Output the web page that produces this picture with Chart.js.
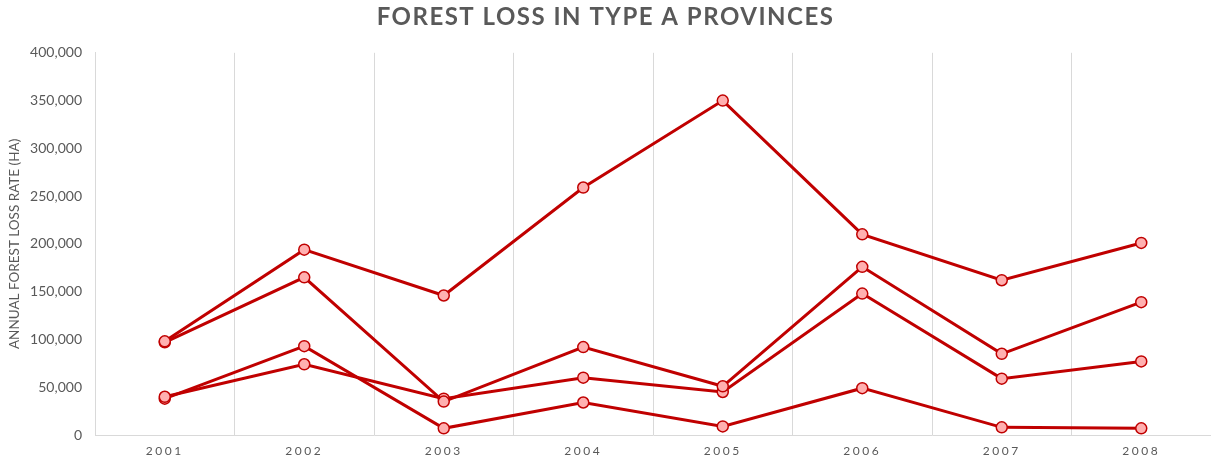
<!DOCTYPE html>
<html>
<head>
<meta charset="utf-8">
<script src="https://cdn.jsdelivr.net/npm/chart.js@4.4.0/dist/chart.umd.min.js"></script>
<style>
  html, body { margin: 0; padding: 0; background: #ffffff; }
  #wrap { width: 1211px; height: 466px; }
</style>
</head>
<body>
<div id="wrap"><canvas id="c" width="1211" height="466"></canvas></div>
<script>
const years = ['2001', '2002', '2003', '2004', '2005', '2006', '2007', '2008'];
const seriesA = [98000, 194000, 146000, 259000, 350000, 210000, 162000, 201000];
const seriesB = [97000, 165000, 35000, 92000, 51000, 176000, 85000, 139000];
const seriesC = [40000, 74000, 38000, 60000, 45000, 148000, 59000, 77000];
const seriesD = [38000, 93000, 7000, 34000, 9000, 49000, 8000, 7000];
const chartTitle = 'FOREST LOSS IN TYPE A PROVINCES';
const yTitle = 'ANNUAL FOREST LOSS RATE (HA)';

const RED = '#c00000';
const PINK = '#ffb0b0';
const GRAY = '#595959';
const GRID = '#d9d9d9';

function mk(data, label) {
  return {
    label: label,
    data: data,
    borderColor: RED,
    borderWidth: 3,
    pointRadius: 5.5,
    pointHoverRadius: 5.5,
    pointBackgroundColor: PINK,
    pointBorderColor: RED,
    pointBorderWidth: 1.5,
    tension: 0,
    fill: false,
    clip: false
  };
}

const spacingPlugin = {
  id: 'spacing',
  beforeDraw(chart) {
    const wrap = (obj, key, sp) => {
      if (!obj || obj['_wrapped_' + key]) return;
      const orig = obj[key].bind(obj);
      obj[key] = function (...a) {
        const c = chart.ctx;
        const prev = c.letterSpacing;
        c.letterSpacing = sp;
        try { return orig(...a); } finally { c.letterSpacing = prev; }
      };
      obj['_wrapped_' + key] = true;
    };
    wrap(chart.scales.x, 'drawLabels', '2.5px');
    wrap(chart.titleBlock, 'draw', '1.5px');
  }
};

new Chart(document.getElementById('c'), {
  type: 'line',
  data: {
    labels: years,
    datasets: [mk(seriesA, 'A'), mk(seriesB, 'B'), mk(seriesC, 'C'), mk(seriesD, 'D')]
  },
  plugins: [spacingPlugin],
  options: {
    responsive: false,
    devicePixelRatio: 1,
    animation: false,
    layout: { autoPadding: false, padding: { left: 0, right: 0, top: 0, bottom: 0 } },
    plugins: {
      legend: { display: false },
      tooltip: { enabled: false },
      title: {
        display: true,
        text: chartTitle,
        color: GRAY,
        font: { family: 'Lato', size: 24, weight: 'bold', lineHeight: 1.2 },
        padding: { top: 3, bottom: 21 }
      }
    },
    scales: {
      x: {
        offset: true,
        grid: { display: true, offset: true, color: GRID, lineWidth: 1, drawTicks: false },
        border: { display: true, color: GRID, width: 1 },
        ticks: { color: GRAY, font: { family: 'Lato', size: 12 }, padding: 9, maxRotation: 0 },
        afterFit(scale) {
          scale.height = 31;
          scale.paddingLeft = 0;
          scale.paddingRight = 0;
        }
      },
      y: {
        min: 0,
        max: 400000,
        grid: { display: true, color: 'rgba(0,0,0,0)', drawTicks: false },
        border: { display: true, color: GRID, width: 1 },
        ticks: {
          stepSize: 50000,
          color: GRAY,
          font: { family: 'Lato', size: 14 },
          padding: 13,
          callback: (v) => Number(v).toLocaleString('en-US')
        },
        title: {
          display: true,
          text: yTitle,
          color: GRAY,
          font: { family: 'Lato', size: 13.5 },
          padding: { top: 7, bottom: 0 }
        },
        afterFit(scale) { scale.width = 95; }
      }
    }
  }
});
</script>
</body>
</html>
